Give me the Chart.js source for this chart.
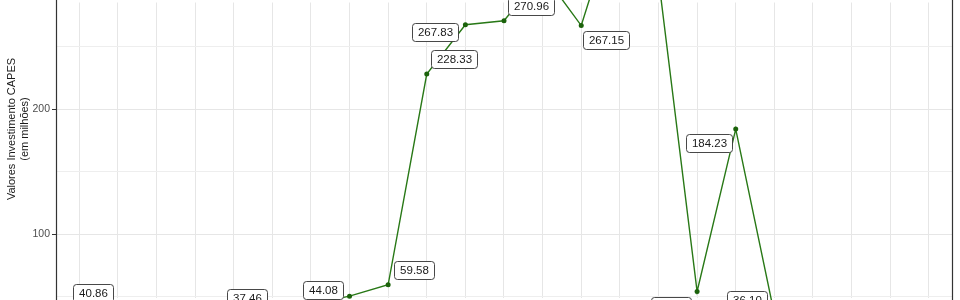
<!DOCTYPE html>
<html>
<head>
<meta charset="utf-8">
<script src="https://cdn.jsdelivr.net/npm/chart.js@4/dist/chart.umd.min.js"></script>
<style>
  html, body { margin: 0; padding: 0; background: #fff; overflow: hidden; }
  #wrap { width: 960px; height: 300px; }
</style>
</head>
<body>
<div id="wrap"><canvas id="chart" width="960" height="300"></canvas></div>
<script>
// anos (eixo x não aparece no recorte)
const anos = [2000, 2001, 2002, 2003, 2004, 2005, 2006, 2007, 2008, 2009, 2010, 2011,
  2012, 2013, 2014, 2015, 2016, 2017, 2018, 2019, 2020, 2021, 2022]

// valores investimento CAPES (em milhões)
const investimento = [40.86, 38.5, 36.2, 39.1, 37.46, 41.3, 44.08, 50.5, 59.58, 228.33, 267.83, 270.96,
  309.2, 267.15, 365.4, 305.1, 54.2, 184.23, 36.1, 31.2, 27.5, 24.8, 29.6]

const yTicks = [50, 100, 150, 200, 250]

// deslocamento dos rótulos (px) em relação ao ponto, tipo ggrepel
const labelOffsets = [
  [13.5, -15], [0, 16], [0, 16], [0, 16], [13.5, -14], [0, 16], [12, -14.5], [0, 20],
  [26, -14.7], [27.5, -15.4], [-30.5, 7], [26.5, -14.4], [0, -20], [25, 14.2], [0, -20],
  [0, -20], [-26, 14], [-26.5, 14], [-27, -14.5], [0, 16], [0, 16], [0, 16], [0, 16]
]

const FONT = '"Liberation Sans", Arial, Helvetica, sans-serif'
const LINE_GREEN = '#287816'
const DOT_GREEN = '#1b620b'

// borda do painel + título do eixo y
const panelPlugin = {
  id: 'panel',
  afterDatasetsDraw(chart) {
    const { ctx, chartArea } = chart
    ctx.save()
    ctx.strokeStyle = '#333333'
    ctx.lineWidth = 1.2
    ctx.beginPath()
    ctx.moveTo(chartArea.left + 0.5, 0)
    ctx.lineTo(chartArea.left + 0.5, 300)
    ctx.moveTo(chartArea.right + 0.5, 0)
    ctx.lineTo(chartArea.right + 0.5, 300)
    ctx.stroke()

    ctx.fillStyle = '#1a1a1a'
    ctx.font = `11px ${FONT}`
    ctx.textAlign = 'center'
    ctx.textBaseline = 'middle'
    ctx.translate(12, 129)
    ctx.rotate(-Math.PI / 2)
    ctx.fillText('Valores Investimento CAPES', 0, 0)
    ctx.fillText('(em milhões)', 0, 13)
    ctx.restore()
  }
}

// rótulos com caixa
const labelPlugin = {
  id: 'boxLabels',
  afterDatasetsDraw(chart) {
    const { ctx } = chart
    const meta = chart.getDatasetMeta(0)
    ctx.save()
    ctx.font = `11.5px ${FONT}`
    ctx.textAlign = 'center'
    ctx.textBaseline = 'middle'
    meta.data.forEach((pt, i) => {
      const [dx, dy] = labelOffsets[i]
      const text = investimento[i].toFixed(2)
      const w = Math.round(ctx.measureText(text).width + 11)
      const h = 18
      const x0 = Math.round(pt.x + dx - w / 2) + 0.5
      const y0 = Math.round(pt.y + dy - h / 2) + 0.5
      ctx.beginPath()
      ctx.roundRect(x0, y0, w, h, 3)
      ctx.fillStyle = '#ffffff'
      ctx.fill()
      ctx.strokeStyle = '#333333'
      ctx.lineWidth = 0.9
      ctx.stroke()
      ctx.fillStyle = '#1a1a1a'
      ctx.fillText(text, x0 + w / 2, y0 + h / 2 + 0.5)
    })
    ctx.restore()
  }
}

new Chart(document.getElementById('chart'), {
  type: 'line',
  data: {
    labels: anos,
    datasets: [{
      label: 'Investimento CAPES',
      data: investimento.map((v, i) => ({ x: i, y: v })),
      borderColor: LINE_GREEN,
      backgroundColor: DOT_GREEN,
      borderWidth: 1.4,
      pointRadius: 2.5,
      pointHoverRadius: 2.5,
      pointBorderWidth: 0,
      tension: 0,
      clip: false
    }]
  },
  options: {
    responsive: false,
    animation: false,
    events: [],
    layout: { padding: { left: 0, right: 8, top: 0, bottom: 0 } },
    plugins: { legend: { display: false }, tooltip: { enabled: false } },
    scales: {
      x: {
        type: 'linear',
        min: -0.6,
        max: anos.length - 1 + 0.6,
        afterBuildTicks: scale => { scale.ticks = anos.map((a, i) => ({ value: i })) },
        afterFit: scale => { scale.height = 0 },
        ticks: { display: false },
        border: { display: false },
        grid: { color: '#e6e6e6', lineWidth: 1, drawTicks: false }
      },
      y: {
        min: 49.4,
        max: 285.6,
        afterBuildTicks: scale => { scale.ticks = yTicks.map(v => ({ value: v })) },
        afterFit: scale => {
          scale.width = 56
          scale.paddingTop = 0
          scale.paddingBottom = 0
        },
        border: { display: false },
        grid: {
          color: ctx => (ctx.tick && ctx.tick.value % 100 === 0) ? '#e6e6e6' : '#eeeeee',
          lineWidth: 1,
          tickLength: 4,
          tickColor: ctx => (ctx.tick && ctx.tick.value % 100 === 0) ? '#333333' : 'rgba(0,0,0,0)'
        },
        ticks: {
          padding: 2,
          color: '#4d4d4d',
          font: { family: FONT, size: 10.5 },
          callback: v => (v % 100 === 0 ? String(v) : '')
        }
      }
    }
  },
  plugins: [panelPlugin, labelPlugin]
})
</script>
</body>
</html>
